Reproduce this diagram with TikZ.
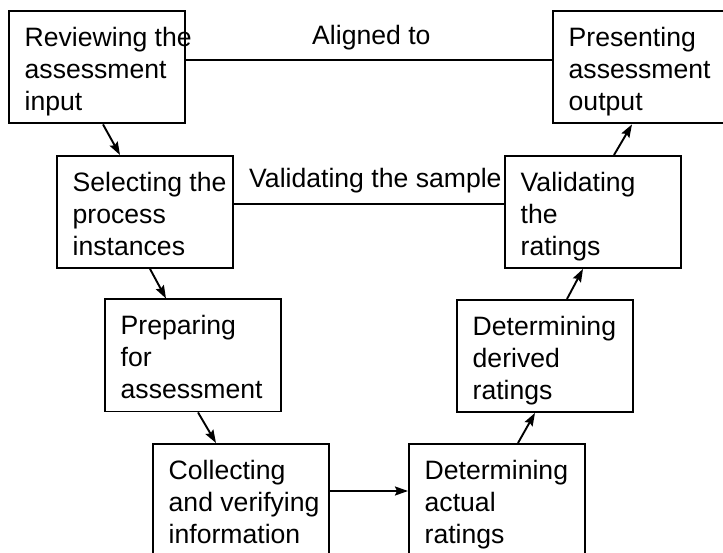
\documentclass[tikz,border=0pt]{standalone}
\usepackage{fontspec}
\setmainfont{Liberation Sans}
\usetikzlibrary{arrows.meta}

\begin{document}
\begin{tikzpicture}[x=1pt,y=-1pt,
  stagebox/.style={draw, line width=1.9pt, minimum width=176pt, minimum height=112pt,
                   inner sep=0pt, anchor=north west},
  stagetext/.style={anchor=north west, inner sep=0pt, align=left,
                    font=\fontsize{26.6}{32}\selectfont},
  flowlabel/.style={anchor=base west, inner sep=0pt, font=\fontsize{26.6}{32}\selectfont},
  flow/.style={line width=1.9pt, -{Stealth[length=13pt,width=9pt,inset=2pt]}},
  link/.style={line width=1.9pt}]

\useasboundingbox (0,0) rectangle (723,553);
\clip (0,0) rectangle (723,553);
\fill[white] (0,0) rectangle (723,553);

% stage boxes
\node[stagebox] (b1) at (8,10.5) {};
\node[stagebox] (b2) at (56,155) {};
\node[stagebox] (b3) at (104,298.5) {};
\node[stagebox] (b4) at (152,443) {};
\node[stagebox] (b5) at (408,443) {};
\node[stagebox] (b6) at (456,299) {};
\node[stagebox] (b7) at (504,155) {};
\node[stagebox] (b8) at (552,10.5) {};

% stage texts
\newcommand{\stagelabel}[3]{%
  \node[stagetext] (#1) at ([xshift=16.5pt,yshift=-13.6pt]#2.north west) {\strut #3};}
\stagelabel{t1}{b1}{Reviewing the\\assessment\\input}
\stagelabel{t2}{b2}{Selecting the\\process\\instances}
\stagelabel{t3}{b3}{Preparing\\for\\assessment}
\stagelabel{t4}{b4}{Collecting\\and verifying\\information}
\stagelabel{t5}{b5}{Determining\\actual\\ratings}
\stagelabel{t6}{b6}{Determining\\derived\\ratings}
\stagelabel{t7}{b7}{Validating\\the\\ratings}
\stagelabel{t8}{b8}{Presenting\\assessment\\output}

% process flow
\draw[flow] ([xshift=95pt]b1.south west) -- ([xshift=64pt]b2.north west);
\draw[flow] ([xshift=94pt]b2.south west) -- ([xshift=62pt]b3.north west);
\draw[flow] ([xshift=94pt]b3.south west) -- ([xshift=64pt]b4.north west);
\draw[flow] ([yshift=-48pt]b4.north east) -- ([yshift=-48pt]b5.north west);
\draw[flow] ([xshift=110pt]b5.north west) -- ([xshift=79pt]b6.south west);
\draw[flow] ([xshift=111pt]b6.north west) -- ([xshift=79pt]b7.south west);
\draw[flow] ([xshift=110pt]b7.north west) -- ([xshift=80pt]b8.south west);

% correspondence links
\draw[link] ([yshift=-49.5pt]b1.north east) -- ([yshift=-49.5pt]b8.north west);
\draw[link] ([yshift=-49pt]b2.north east) -- ([yshift=-49pt]b7.north west);
\node[flowlabel] (l1) at (312,45) {Aligned to};
\node[flowlabel] (l2) at (249,188) {Validating the sample};

\end{tikzpicture}
\end{document}
